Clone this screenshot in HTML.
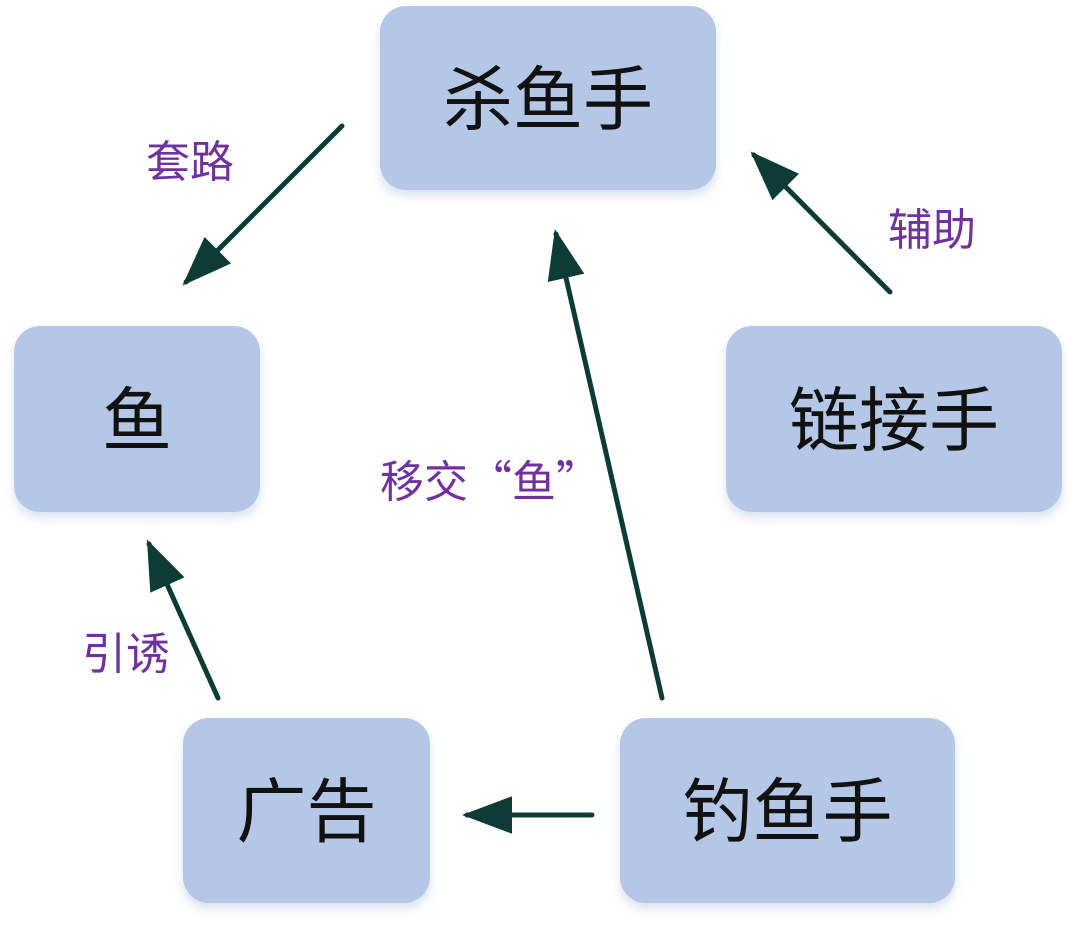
<!DOCTYPE html>
<html><head><meta charset="utf-8"><style>
body{margin:0;width:1080px;height:929px;background:#fff;overflow:hidden;position:relative;font-family:"Liberation Sans","Noto Sans CJK SC",sans-serif}
.b{position:absolute;background:#b4c7e7;border-radius:26px;box-shadow:0 6px 10px rgba(150,170,210,.35);display:flex;align-items:center;justify-content:center;font-size:70px;color:#111;box-sizing:border-box;padding-bottom:8px}
.l{position:absolute;color:#7030a0;font-size:44px;line-height:1;font-family:"Noto Sans CJK SC",sans-serif}
svg{position:absolute;left:0;top:0}
</style></head><body>
<div class="b" style="left:380px;top:6px;width:336px;height:184px">杀鱼手</div>
<div class="b" style="left:14px;top:326px;width:246px;height:186px">鱼</div>
<div class="b" style="left:726px;top:326px;width:336px;height:186px">链接手</div>
<div class="b" style="left:183px;top:718px;width:247px;height:185px">广告</div>
<div class="b" style="left:620px;top:718px;width:335px;height:185px">钓鱼手</div>
<div class="l" style="left:146px;top:136px">套路</div>
<div class="l" style="left:888px;top:204px">辅助</div>
<div class="l" style="left:380px;top:456px">移交“鱼”</div>
<div class="l" style="left:82px;top:628px">引诱</div>
<svg width="1080" height="929">
<defs><marker id="a" markerWidth="10" markerHeight="7.5" refX="9" refY="3.75" orient="auto" markerUnits="strokeWidth"><path d="M0,0L10,3.75L0,7.5z" fill="#0d3b35"/></marker></defs>
<g stroke="#0d3b35" stroke-width="5" stroke-linecap="round" marker-end="url(#a)">
<line x1="342" y1="126" x2="186" y2="282"/>
<line x1="890" y1="292" x2="754" y2="155"/>
<line x1="662" y1="698" x2="556" y2="234"/>
<line x1="218" y1="698" x2="149" y2="544"/>
<line x1="592" y1="815" x2="467" y2="815"/>
</g></svg>
</body></html>
